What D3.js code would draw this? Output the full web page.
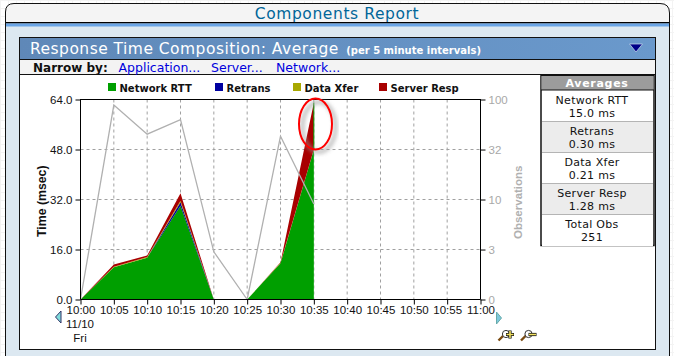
<!DOCTYPE html>
<html><head><meta charset="utf-8">
<script src="https://cdn.jsdelivr.net/npm/d3@7"></script>
<style>
html,body{margin:0;padding:0;background:#fff;overflow:hidden}
svg{display:block}
text{font-family:"Liberation Sans",Arial,sans-serif}
.v{font-family:"DejaVu Sans",Verdana,sans-serif}
</style></head><body>
<svg id="c" width="674" height="356"></svg>
<script>
const timeLabels=["10:00","10:05","10:10","10:15","10:20","10:25","10:30","10:35","10:40","10:45","10:50","10:55","11:00"];
const dataTimes=["10:00","10:05","10:10","10:15","10:20","10:25","10:30","10:35"];
const networkRTT=[0,10.3,13.4,30,0,0,11.6,48];
const retrans=[0,0,0,1.1,0,0,0,0];
const dataXfer=[0,0.2,0.2,0.5,0,0,0.2,0];
const serverResp=[0,0.7,0.5,2.4,0,0,0.1,15];
const observations=[0,88,45,63,3,0,43,9];
const seriesNames=["Network RTT","Retrans","Data Xfer","Server Resp"];
const seriesColors=["#009f00","#0000a0","#a8a800","#a80000"];
const timeTicks=[0,16,32,48,64];
const obsTicks=[1,3.16,10,31.6,100];
const obsTickLabels=["0","3","10","32","100"];
const summaryRows=[["Network RTT","15.0 ms"],["Retrans","0.30 ms"],["Data Xfer","0.21 ms"],["Server Resp","1.28 ms"],["Total Obs","251"]];
const navLinks=[["Application...",118.5],["Server...",211],["Network...",276]];

const svg=d3.select("#c");
const defs=svg.append("defs");
const hg=defs.append("linearGradient").attr("id","hg").attr("x1",0).attr("x2",1);
hg.append("stop").attr("offset",0).attr("stop-color","#5f88b8");
hg.append("stop").attr("offset",1).attr("stop-color","#6a99cc");
const pat=defs.append("pattern").attr("id","bg").attr("width",8).attr("height",8).attr("patternUnits","userSpaceOnUse");
pat.append("rect").attr("width",8).attr("height",8).attr("fill","#fff");
pat.append("path").attr("d","M0 .5H8M.5 0V8").attr("stroke","#f3f3f3");
defs.append("filter").attr("id","blur").append("feGaussianBlur").attr("stdDeviation",2.2);

svg.append("rect").attr("width",674).attr("height",356).attr("fill","url(#bg)");
// outer panel
svg.append("path").attr("d","M5.5 356V12Q5.5 3.5 14 3.5H660Q669.5 3.5 669.5 13V356Z").attr("fill","#f4f4f4").attr("stroke","#111");
svg.append("rect").attr("x",6).attr("y",23).attr("width",663).attr("height",333).attr("fill","#dce8f1");
svg.append("rect").attr("x",6).attr("y",22).attr("width",663).attr("height",1.5).attr("fill","#000");
svg.append("rect").attr("x",6).attr("y",23.5).attr("width",663).attr("height",3).attr("fill","#6aa5e6");
svg.append("text").attr("class","v").attr("x",337).attr("y",18.5).attr("text-anchor","middle")
  .attr("font-size",15.5).attr("fill","#006699").attr("letter-spacing",.6).text("Components Report");
// inner panel
svg.append("rect").attr("x",19.5).attr("y",37.5).attr("width",636).attr("height",312).attr("fill","#fff").attr("stroke","#111");
svg.append("rect").attr("x",20).attr("y",38).attr("width",635).attr("height",21).attr("fill","url(#hg)");
svg.append("rect").attr("x",20).attr("y",59).attr("width",635).attr("height",15).attr("fill","#f3f3f3");
svg.append("path").attr("d","M20 59.5H655M20 74.5H655").attr("stroke","#111");
const ht=svg.append("text").attr("class","v").attr("x",30).attr("y",54).attr("fill","#fff").attr("font-size",15.5);
ht.append("tspan").attr("letter-spacing",.47).text("Response Time Composition: Average ");
ht.append("tspan").attr("font-size",10).attr("font-weight","bold").attr("dx",2).text("(per 5 minute intervals)");
svg.append("path").attr("d","M629.5 44H642.5L636 52Z").attr("fill","#000088").attr("stroke","#cfe0f0").attr("stroke-width",.7);
svg.append("text").attr("class","v").attr("x",33).attr("y",72).attr("font-size",12).attr("font-weight","bold").attr("fill","#111").text("Narrow by:");
svg.append("g").selectAll("text").data(navLinks).join("text").attr("class","v")
  .attr("x",d=>d[1]).attr("y",72).attr("font-size",12.5).attr("fill","#0000dd").text(d=>d[0]);

// chart
const x=d3.scalePoint().domain(timeLabels).range([80.5,480.5]);
const y=d3.scaleLinear().domain([0,64]).range([299.5,99.5]);
const yObs=d3.scaleLog().domain([1,100]).range([299.5,99.5]);
const table=dataTimes.map((t,i)=>({t,"Network RTT":networkRTT[i],"Retrans":retrans[i],"Data Xfer":dataXfer[i],"Server Resp":serverResp[i],obs:observations[i]}));
const stacked=d3.stack().keys(seriesNames)(table);

const grid=svg.append("g").attr("stroke","#a0a0a0").attr("stroke-dasharray","3 3");
grid.selectAll(".h").data(timeTicks.slice(1,4)).join("line").attr("x1",80.5).attr("x2",480.5).attr("y1",d=>y(d)).attr("y2",d=>y(d));
grid.selectAll(".w").data(timeLabels.slice(1,12)).join("line").attr("x1",d=>x(d)).attr("x2",d=>x(d)).attr("y1",99.5).attr("y2",299.5);

const area=d3.area().x(d=>x(d.data.t)).y0(d=>y(d[0])).y1(d=>y(d[1]));
svg.append("g").selectAll("path").data(stacked).join("path").attr("d",area).attr("fill",(d,i)=>seriesColors[i]);
// thin first-series edge along the last sample
svg.append("line").attr("x1",x("10:35")).attr("x2",x("10:35"))
  .attr("y1",y(networkRTT[7])).attr("y2",y(networkRTT[7]+serverResp[7])).attr("stroke","#009f00");
svg.append("path").datum(table).attr("fill","none").attr("stroke","#b0b0b0").attr("stroke-width",1.3)
  .attr("d",d3.line().x(d=>x(d.t)).y(d=>yObs(Math.max(1,d.obs))));

const fs=11.5;
const bottom=svg.append("g").attr("transform","translate(0,299.5)").call(d3.axisBottom(x).tickSize(5).tickPadding(1.7));
const left=svg.append("g").attr("transform","translate(80.5,0)").call(d3.axisLeft(y).tickValues(timeTicks).tickFormat(d3.format(".1f")).tickSize(5).tickPadding(3));
const right=svg.append("g").attr("transform","translate(480.5,0)").call(d3.axisRight(yObs).tickValues(obsTicks).tickFormat((d,i)=>obsTickLabels[i]).tickSize(5).tickPadding(3));
[bottom,left,right].forEach(g=>{g.attr("font-family",null);g.selectAll("text").attr("font-size",fs).attr("fill","#111").style("font-family",'"Liberation Sans"');
  g.selectAll("line,path").attr("stroke","#000");});
right.selectAll("text").attr("fill","#a8a8a8");
bottom.select(".domain").attr("d","M80.5 0H480.5");
left.select(".domain").attr("d","M0 99.5V299.5");
right.select(".domain").attr("d","M0 99.5V299.5");
svg.append("path").attr("d","M80 99.5H481").attr("stroke","#000");
svg.append("text").attr("x",80).attr("y",328).attr("text-anchor","middle").attr("font-size",fs).attr("fill","#111").text("11/10");
svg.append("text").attr("x",80).attr("y",341.5).attr("text-anchor","middle").attr("font-size",fs).attr("fill","#111").text("Fri");
svg.append("text").attr("transform","translate(46,237) rotate(-90)").attr("font-size",12.3).attr("font-weight","bold").attr("fill","#111").text("Time (msec)");
svg.append("text").attr("transform","translate(522,239) rotate(-90)").attr("font-size",11.5).attr("font-weight","bold").attr("fill","#b0b0b0").text("Observations");

// legend
const lx=[108,215,293,379];
const lg=svg.append("g").selectAll("g").data(seriesNames).join("g").attr("transform",(d,i)=>`translate(${lx[i]},83)`);
lg.append("rect").attr("width",8).attr("height",8).attr("fill",(d,i)=>seriesColors[i]);
lg.append("text").attr("class","v").attr("x",11.5).attr("y",8.5).attr("font-size",10).attr("font-weight","bold").attr("fill","#111").text(d=>d);

// highlight ellipse
svg.append("ellipse").attr("cx",319).attr("cy",127).attr("rx",16.5).attr("ry",25).attr("fill","none").attr("stroke","#999").attr("stroke-width",3).attr("filter","url(#blur)").attr("opacity",.8);
svg.append("ellipse").attr("cx",315.5).attr("cy",124).attr("rx",16.5).attr("ry",25.5).attr("fill","none").attr("stroke","#f00").attr("stroke-width",2);

// summary
svg.append("rect").attr("x",541).attr("y",75.5).attr("width",113).attr("height",170).attr("fill","#fff").attr("stroke","#111").attr("stroke-width",1.5);
svg.append("rect").attr("x",541.5).attr("y",76).attr("width",112).attr("height",14).attr("fill","#9c9c9c");
svg.append("path").attr("d","M541 90H654").attr("stroke","#111");
svg.append("text").attr("class","v").attr("x",597).attr("y",87).attr("text-anchor","middle").attr("font-size",11).attr("font-weight","bold").attr("letter-spacing",.7).attr("fill","#fff").text("Averages");
const rowH=31;
const r=svg.append("g").selectAll("g").data(summaryRows).join("g").attr("transform",(d,i)=>`translate(542,${91+i*rowH})`);
r.append("rect").attr("width",111).attr("height",rowH).attr("fill",(d,i)=>i%2?"#ececec":"#fff");
r.filter((d,i)=>i<4).append("line").attr("x1",0).attr("x2",111).attr("y1",rowH-.5).attr("y2",rowH-.5).attr("stroke","#b4b4b4");
r.append("text").attr("class","v").attr("x",50).attr("y",13).attr("text-anchor","middle").attr("font-size",11).attr("letter-spacing",.3).attr("fill","#111").text(d=>d[0]);
r.append("text").attr("class","v").attr("x",50).attr("y",26).attr("text-anchor","middle").attr("font-size",11).attr("letter-spacing",.3).attr("fill","#111").text(d=>d[1]);

// nav and zoom glyphs
svg.append("path").attr("d","M61 311V323L55.5 317Z").attr("fill","#7fdcdc").attr("stroke","#336");
svg.append("path").attr("d","M496.5 312V324L501.5 318Z").attr("fill","#7fc8dc").attr("stroke","#6aa");
function zoomIcon(xx,plus){
  const g=svg.append("g").attr("transform",`translate(${xx},329)`);
  g.append("path").attr("d","M1.5 11.5L7 6").attr("stroke","#7a4a10").attr("stroke-width",2.4);
  g.append("circle").attr("cx",9).attr("cy",5).attr("r",3.6).attr("fill","#fff").attr("stroke","#333");
  g.append("path").attr("d",plus?"M9 5.5H17M13 1.5V9.5":"M9 5.5H17").attr("stroke","#111").attr("stroke-width",3.2);
  g.append("path").attr("d",plus?"M9.5 5.5H16.5M13 2V9":"M9.5 5.5H16.5").attr("stroke","#f0e060").attr("stroke-width",1.6);
}
zoomIcon(497,true);zoomIcon(519.5,false);
</script>
</body></html>
